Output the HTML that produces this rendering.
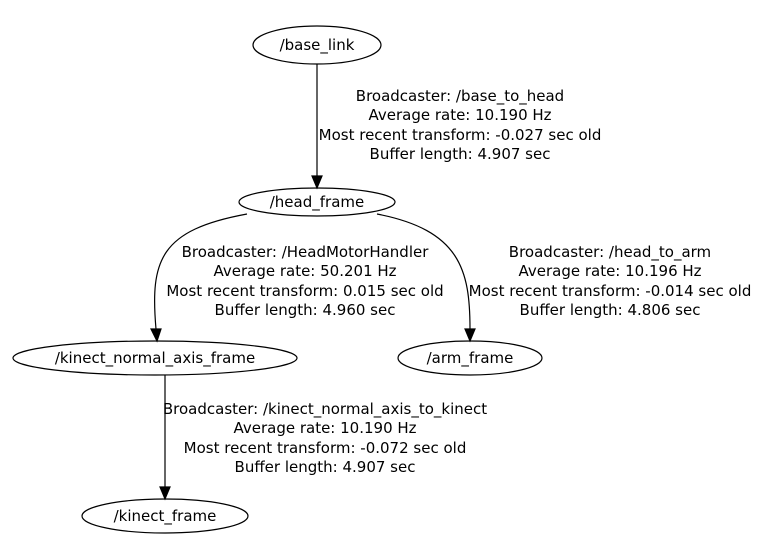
<!DOCTYPE html>
<html><head><style>
html,body{margin:0;padding:0;background:#fff;}
svg{display:block;}
text{font-family:"DejaVu Sans",sans-serif;font-size:15px;fill:#000;}
</style></head><body>
<svg width="762" height="555" viewBox="0 0 762 555">
<g fill="none" stroke="#000" stroke-width="1.2">
<ellipse cx="317" cy="45" rx="64" ry="19"/>
<ellipse cx="317" cy="202" rx="78" ry="14"/>
<ellipse cx="155" cy="358" rx="142" ry="17"/>
<ellipse cx="470" cy="358" rx="72" ry="17"/>
<ellipse cx="165" cy="516" rx="83" ry="17"/>
<line x1="317" y1="64" x2="317" y2="177"/>
<path d="M247,214 C160,230 150,260 156,329"/>
<path d="M377,214 C460,230 470,270 470,329"/>
<line x1="165" y1="375" x2="165" y2="487"/>
<polygon fill="#000" points="312,176 322,176 317,188"/>
<polygon fill="#000" points="151,329 161,329 157,341"/>
<polygon fill="#000" points="465,329 475,329 470,341"/>
<polygon fill="#000" points="160,487 170,487 165,499"/>
</g>
<g text-anchor="middle">
<text x="317" y="50">/base_link</text>
<text x="317" y="207">/head_frame</text>
<text x="155" y="363">/kinect_normal_axis_frame</text>
<text x="470" y="363">/arm_frame</text>
<text x="165" y="521">/kinect_frame</text>
<text x="460" y="101">Broadcaster: /base_to_head</text>
<text x="460" y="120">Average rate: 10.190 Hz</text>
<text x="460" y="140">Most recent transform: -0.027 sec old</text>
<text x="460" y="159">Buffer length: 4.907 sec</text>
<text x="305" y="257">Broadcaster: /HeadMotorHandler</text>
<text x="305" y="276">Average rate: 50.201 Hz</text>
<text x="305" y="296">Most recent transform: 0.015 sec old</text>
<text x="305" y="315">Buffer length: 4.960 sec</text>
<text x="610" y="257">Broadcaster: /head_to_arm</text>
<text x="610" y="276">Average rate: 10.196 Hz</text>
<text x="610" y="296">Most recent transform: -0.014 sec old</text>
<text x="610" y="315">Buffer length: 4.806 sec</text>
<text x="325" y="414">Broadcaster: /kinect_normal_axis_to_kinect</text>
<text x="325" y="433">Average rate: 10.190 Hz</text>
<text x="325" y="453">Most recent transform: -0.072 sec old</text>
<text x="325" y="472">Buffer length: 4.907 sec</text>
</g>
</svg>
</body></html>
